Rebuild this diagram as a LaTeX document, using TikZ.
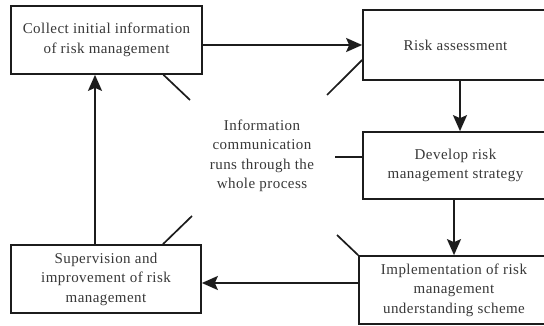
\documentclass[tikz,border=0pt]{standalone}
\usepackage{fontspec}
\setmainfont[LetterSpace=3]{Liberation Serif}
\usetikzlibrary{arrows.meta,calc}
\definecolor{inkline}{HTML}{1C1C1C}
\definecolor{inktext}{HTML}{383838}
\tikzset{
  stage/.style={draw=inkline, line width=1.7pt, rectangle, align=center,
    text=inktext, font=\fontsize{15}{19.5}\selectfont, inner sep=0pt},
  flow/.style={draw=inkline, line width=1.9pt,
    -{Stealth[length=16pt,width=14pt,inset=3pt]}},
  tie/.style={draw=inkline, line width=1.7pt}
}
\begin{document}
\begin{tikzpicture}[x=1pt,y=-1pt]
  \clip (0,0) rectangle (544,326);
  \fill[white] (0,0) rectangle (544,326);

  % process stages
  \node[stage, minimum width=191pt, minimum height=68pt] (collect) at (106.5,40)
    {Collect initial information\\of risk management};
  \node[stage, minimum width=185pt, minimum height=70pt] (assess) at (455.5,45)
    {Risk assessment};
  \node[stage, minimum width=185pt, minimum height=67pt] (develop) at (455.5,165.5)
    {Develop risk\\management strategy};
  \node[stage, minimum width=190pt, minimum height=68pt] (implement) at (454,290)
    {Implementation of risk\\management\\understanding scheme};
  \node[stage, minimum width=190pt, minimum height=68pt] (supervise) at (106,279)
    {Supervision and\\improvement of risk\\management};

  % central note
  \node[align=center, text=inktext, font=\fontsize{15}{19.5}\selectfont] (info) at (262,156)
    {Information\\communication\\runs through the\\whole process};

  % main cycle
  \draw[flow] (collect.east |- assess.west) -- (assess.west);
  \draw[flow] ([xshift=4.5pt]assess.south) -- ([xshift=4.5pt]assess.south |- develop.north);
  \draw[flow] (develop.south -| implement.north) -- (implement.north);
  \draw[flow] ([yshift=-4pt]supervise.east -| implement.west) -- ([yshift=-4pt]supervise.east);
  \draw[flow] ([xshift=-11pt]supervise.north) -- ([xshift=-11pt]supervise.north |- collect.south);

  % communication ties
  \coordinate (t1) at (190,100);
  \coordinate (t2) at (327,95);
  \coordinate (t3) at (335,157);
  \coordinate (t4) at (337,235);
  \coordinate (t5) at (192,216);
  \draw[tie] ([xshift=57pt]collect.south) -- (t1);
  \draw[tie] ([yshift=-15pt]assess.west) -- (t2);
  \draw[tie] ([yshift=8.5pt]develop.west) -- (t3);
  \draw[tie] (implement.north west) -- (t4);
  \draw[tie] ([xshift=57pt]supervise.north) -- (t5);
\end{tikzpicture}
\end{document}
